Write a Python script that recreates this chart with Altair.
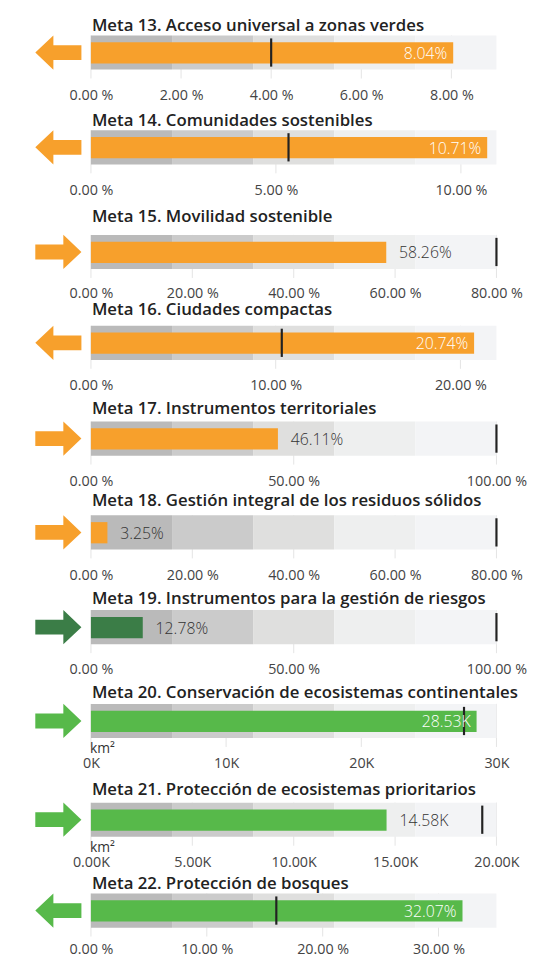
import altair as alt
import pandas as pd

titles = [
    "Meta 13. Acceso universal a zonas verdes",
    "Meta 14. Comunidades sostenibles",
    "Meta 15. Movilidad sostenible",
    "Meta 16. Ciudades compactas",
    "Meta 17. Instrumentos territoriales",
    "Meta 18. Gestión integral de los residuos sólidos",
    "Meta 19. Instrumentos para la gestión de riesgos",
    "Meta 20. Conservación de ecosistemas continentales",
    "Meta 21. Protección de ecosistemas prioritarios",
    "Meta 22. Protección de bosques",
]
values = [8.04, 10.71, 58.26, 20.74, 46.11, 3.25, 12.78, 28530, 14580, 32.07]
targets = [4.0, 5.34, 80, 10.33, 100, 80, 100, 27600, 19300, 16.0]
maxima = [9.0, 10.96, 80, 21.95, 100, 80, 100, 30000, 20000, 35]
directions = ["left", "left", "right", "left", "right", "right", "right", "right", "right", "left"]
palette = ["orange", "orange", "orange", "orange", "orange", "orange", "darkgreen", "green", "green", "green"]
units = ["%", "%", "%", "%", "%", "%", "%", "km2", "km2", "%"]
tick_values = [
    [0, 2, 4, 6, 8],
    [0, 5, 10],
    [0, 20, 40, 60, 80],
    [0, 10, 20],
    [0, 50, 100],
    [0, 20, 40, 60, 80],
    [0, 50, 100],
    [0, 10000, 20000, 30000],
    [0, 5000, 10000, 15000, 20000],
    [0, 10, 20, 30],
]
tick_formats = [".2f", ".2f", ".2f", ".2f", ".2f", ".2f", ".2f", ".0f", ".2f", ".2f"]
band_fractions = [0.0, 0.2, 0.4, 0.6, 0.8, 1.0]
band_colors = ["#bababa", "#cbcbcb", "#dfdfde", "#eeefef", "#f3f4f6"]
color_map = {"orange": "#f7a02c", "green": "#57b94a", "darkgreen": "#3b7d47"}

# layout
W = 410.7
BH = 34.6
GRID_EXT = 9
panel_heights = [95.6, 105.6, 91.4, 96.4, 95, 96, 94.4, 99.7, 91.8, 60]
title_gaps = [4.7, 3.8, 13.3, 11.0, 7.3, 9.1, 5.9, 6.3, 7.7, 4.4]
label_pads = [10, 10, 9, 10, 10, 10, 10, 10, 10, 6]
FONT = "Open Sans"
TITLE_FONT = "Open Sans"
TITLE_SIZE = 17

LEFT_ARROW = "M -1 0 L -0.216 -0.743 L -0.216 -0.321 L 1 -0.321 L 1 0.321 L -0.216 0.321 L -0.216 0.743 Z"
RIGHT_ARROW = "M 1 0 L 0.216 -0.743 L 0.216 -0.321 L -1 -0.321 L -1 0.321 L 0.216 0.321 L 0.216 0.743 Z"


def make_panel(i):
    mx = maxima[i]
    h = panel_heights[i]
    xs = alt.Scale(domain=[0, mx], nice=False, zero=True)
    col = color_map[palette[i]]

    if units[i] == "%":
        label_expr = f"format(datum.value, '{tick_formats[i]}') + ' %'"
        vlabel = f"{values[i]:.2f}%"
    else:
        label_expr = f"format(datum.value / 1000, '{tick_formats[i]}') + 'K'"
        vlabel = f"{values[i] / 1000:.2f}K"

    ax = alt.Axis(
        values=tick_values[i], labelExpr=label_expr, title=None,
        grid=False, domain=False, ticks=False, tickSize=0,
        labelPadding=label_pads[i], offset=(BH + GRID_EXT) - h,
        labelFlush=False, labelOverlap=False,
        labelFont=FONT, labelFontSize=14.5, labelColor="#444444")

    grid_df = pd.DataFrame({"t": tick_values[i]})
    bands_df = pd.DataFrame({
        "start": [mx * f for f in band_fractions[:-1]],
        "end": [mx * f for f in band_fractions[1:]],
        "shade": band_colors,
    })
    one = pd.DataFrame({
        "lo": [0.0],
        "value": [values[i]],
        "target": [targets[i]],
        "label": [vlabel],
        "title": [titles[i]],
    })

    grid = alt.Chart(grid_df).mark_rule(color="#e4e4e4", strokeWidth=1).encode(
        x=alt.X("t:Q", scale=xs, axis=ax),
        y=alt.value(0), y2=alt.value(BH + GRID_EXT),
    )
    bands = alt.Chart(bands_df).mark_rect().encode(
        x=alt.X("start:Q", scale=xs, axis=ax), x2="end:Q",
        y=alt.value(0), y2=alt.value(BH),
        color=alt.Color("shade:N", scale=None),
    )
    bar = alt.Chart(one).mark_rect(color=col).encode(
        x=alt.X("lo:Q", scale=xs, axis=ax), x2="value:Q",
        y=alt.value(6.9), y2=alt.value(28.4),
    )
    marker = alt.Chart(one).mark_rule(color="#222222", strokeWidth=2.2).encode(
        x=alt.X("target:Q", scale=xs, axis=ax),
        y=alt.value(3), y2=alt.value(BH - 3),
    )
    inside = values[i] / mx > 0.85
    if inside:
        txt = alt.Chart(one).mark_text(align="right", baseline="middle", dx=-6,
                                       font=FONT, fontSize=16, fontWeight=300,
                                       color="white")
    else:
        txt = alt.Chart(one).mark_text(align="left", baseline="middle", dx=13,
                                       font=FONT, fontSize=16, fontWeight=300,
                                       color="#333333")
    txt = txt.encode(x=alt.X("value:Q", scale=xs, axis=ax),
                     y=alt.value(18.8), text="label:N")
    title = alt.Chart(one).mark_text(align="left", baseline="alphabetic",
                                     font=TITLE_FONT, fontSize=TITLE_SIZE, fontWeight=600,
                                     color="#222222").encode(
        x=alt.value(1), y=alt.value(-title_gaps[i]), text="title:N")
    arrow = alt.Chart(one).mark_point(
        shape=LEFT_ARROW if directions[i] == "left" else RIGHT_ARROW,
        filled=True, size=2181, color=col, opacity=1, strokeWidth=0,
    ).encode(x=alt.value(-33), y=alt.value(BH / 2))

    layers = [grid, bands, bar, marker, txt, title, arrow]
    if units[i] == "km2":
        km = alt.Chart(one).mark_text(align="left", baseline="middle", font=FONT,
                                      fontSize=14, color="#333333", text="km²").encode(
            x=alt.value(-1), y=alt.value(BH + 11))
        layers.append(km)
    return alt.layer(*layers).properties(width=W, height=h)


chart = alt.vconcat(*[make_panel(i) for i in range(len(titles))], spacing=0, bounds="flush")
chart = chart.properties(padding={"left": 27, "top": 2.7, "right": 5, "bottom": 0}).configure_view(stroke=None)

chart.save("out.html", embed_options={"renderer": "svg", "actions": False})
